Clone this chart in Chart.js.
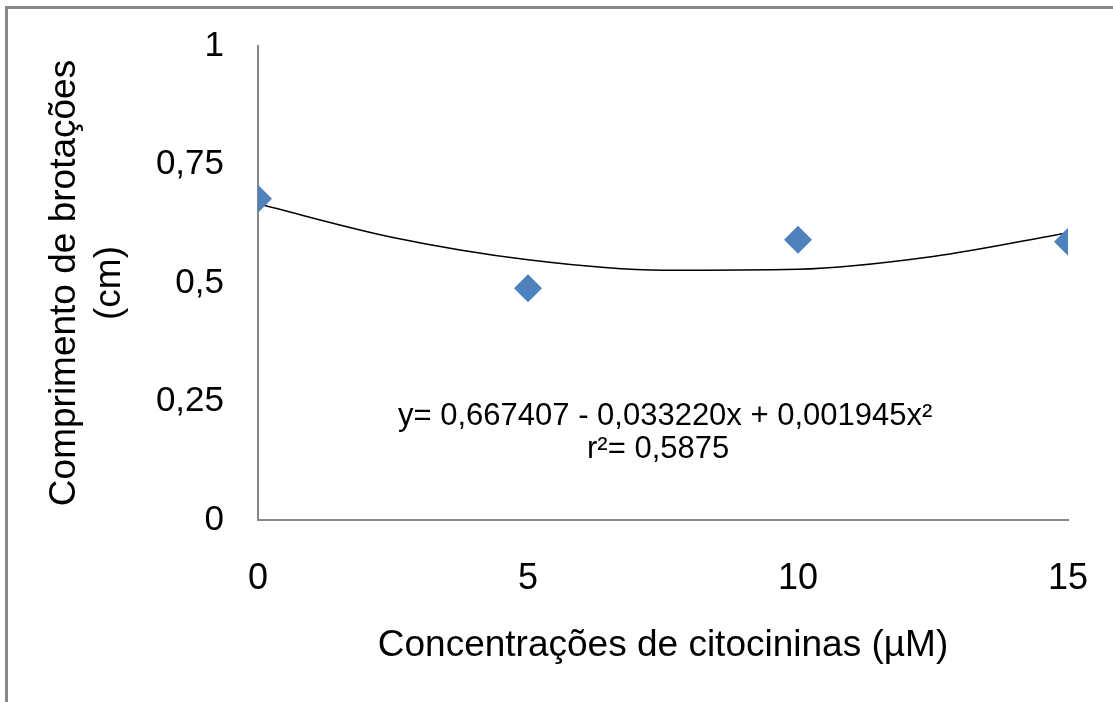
<!DOCTYPE html>
<html>
<head>
<meta charset="utf-8">
<title>Comprimento de brotações</title>
<script src="https://cdn.jsdelivr.net/npm/chart.js@4.4.0/dist/chart.umd.min.js"></script>
<style>
  body { margin: 0; background: #fff; }
  .chart-wrapper { width: 1113px; height: 702px; position: relative; }
</style>
</head>
<body>
<div class="chart-wrapper">
  <canvas id="myChart" width="1113" height="702"></canvas>
</div>

<script>
  // observed means (µM -> cm)
  const concentrations = [0, 5, 10, 15];
  const lengths = [0.678, 0.489, 0.591, 0.587];

  // fitted curve
  const curveX = [0, 2.5, 5, 7.5, 10, 12.5, 15];
  const curveY = [0.667, 0.596, 0.549, 0.527, 0.529, 0.556, 0.606];

  const yTicks = [0, 0.25, 0.5, 0.75, 1];
  const xTicks = [0, 5, 10, 15];

  const equationText = "y= 0,667407 - 0,033220x + 0,001945x²";
  const r2Text = "r²= 0,5875";

  const FONT = "'Liberation Sans', Arial, sans-serif";
  const GREY = "#878787";

  // grey frame around the figure (only left + top are inside the picture)
  const framePlugin = {
    id: "frame",
    beforeDraw(chart) {
      const c = chart.ctx;
      c.save();
      c.fillStyle = "#fff";
      c.fillRect(0, 0, chart.width, chart.height);
      c.strokeStyle = GREY;
      c.lineWidth = 3;
      c.beginPath();
      c.moveTo(6.5, chart.height);
      c.lineTo(6.5, 7.5);
      c.lineTo(chart.width, 7.5);
      c.stroke();
      c.restore();
    }
  };

  const equationPlugin = {
    id: "equation",
    afterDatasetsDraw(chart) {
      const c = chart.ctx;
      const xs = chart.scales.x, ys = chart.scales.y;
      c.save();
      c.fillStyle = "#000";
      c.font = "31px " + FONT;
      c.textAlign = "center";
      c.textBaseline = "alphabetic";
      // anchored in data units so it follows the axes
      c.fillText(equationText, xs.getPixelForValue(7.54), ys.getPixelForValue(0.2));
      c.fillText(r2Text, xs.getPixelForValue(7.41), ys.getPixelForValue(0.131));
      c.restore();
    }
  };

  // keep the label overflow from pushing the plot area around
  function noPad(s) {
    s.paddingTop = 0;
    s.paddingBottom = 0;
    s.paddingLeft = 0;
    s.paddingRight = 0;
  }

  const ctx = document.getElementById("myChart");

  const myChart = new Chart(ctx, {
    type: "scatter",
    data: {
      datasets: [
        {
          label: "Comprimento",
          data: concentrations.map((x, i) => ({ x: x, y: lengths[i] })),
          pointStyle: "rectRot",
          pointRadius: 14,
          pointHoverRadius: 14,
          backgroundColor: "#4F81BD",
          borderColor: "#4F81BD",
          borderWidth: 0,
          order: 1
        },
        {
          label: "Tendência",
          type: "line",
          data: curveX.map((x, i) => ({ x: x, y: curveY[i] })),
          borderColor: "#000",
          borderWidth: 1.5,
          pointRadius: 0,
          fill: false,
          cubicInterpolationMode: "monotone",
          order: 2
        }
      ]
    },
    options: {
      responsive: false,
      animation: false,
      devicePixelRatio: 1,
      layout: { padding: { top: 46, right: 45, left: 0, bottom: 0 } },
      plugins: {
        legend: { display: false },
        tooltip: { enabled: false }
      },
      scales: {
        x: {
          type: "linear",
          min: 0,
          max: 15,
          afterBuildTicks: (s) => { s.ticks = xTicks.map(v => ({ value: v })); },
          afterFit: (s) => { s.height = 182; noPad(s); },
          grid: { display: false, drawTicks: false },
          border: { display: true, color: GREY, width: 2 },
          ticks: {
            color: "#000",
            padding: 37,
            font: { family: FONT, size: 36 },
            callback: (v) => String(v)
          },
          title: {
            display: true,
            text: "Concentrações de citocininas (µM)",
            color: "#000",
            font: { family: FONT, size: 37 },
            padding: { top: 0, bottom: 34 }
          }
        },
        y: {
          min: 0,
          max: 1,
          afterBuildTicks: (s) => { s.ticks = yTicks.map(v => ({ value: v })); },
          afterFit: (s) => { s.width = 258; noPad(s); },
          grid: { display: false, drawTicks: false },
          border: { display: true, color: GREY, width: 2 },
          ticks: {
            color: "#000",
            padding: 34,
            font: { family: FONT, size: 35 },
            callback: (v) => String(v).replace(".", ",")
          },
          title: {
            display: true,
            text: ["Comprimento de brotações", "(cm)"],
            color: "#000",
            font: { family: FONT, size: 37 },
            padding: { top: 43, bottom: 0 }
          }
        }
      }
    },
    plugins: [framePlugin, equationPlugin]
  });
</script>
</body>
</html>
